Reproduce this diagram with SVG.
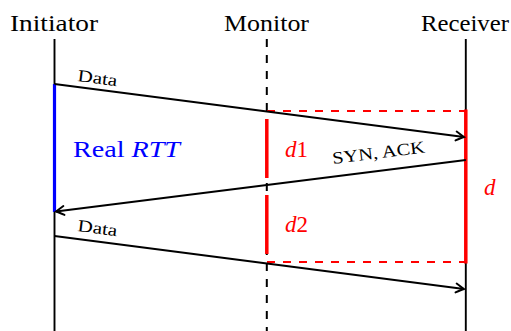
<svg xmlns="http://www.w3.org/2000/svg" width="511" height="331" viewBox="0 0 511 331">
  <style>
    text { font-family: 'Liberation Serif', 'Times New Roman', Times, 'DejaVu Serif', serif; }
    .hdr { font-size: 23px; fill: #000; }
    .lbl { font-size: 17px; fill: #000; }
    .big { font-size: 23px; }
    .life { stroke: #000; stroke-width: 1.9; fill: none; }
    .dash { stroke: #000; stroke-width: 2; stroke-dasharray: 8 8; fill: none; }
    .msg { stroke: #000; stroke-width: 1.9; fill: none; marker-end: url(#arr); }
    .rdash { stroke: #ff0000; stroke-width: 2.2; stroke-dasharray: 8 8; fill: none; }
    .rthick { stroke: #ff0000; stroke-width: 3.5; fill: none; }
    .red { fill: #ff0000; }
    .blue { fill: #0000ff; }
  </style>
  <defs>
    <marker id="arr" viewBox="-10 -6 12 12" refX="0" refY="0" markerWidth="12" markerHeight="12" markerUnits="userSpaceOnUse" orient="auto">
      <path d="M -8,-4.5 Q -2.5,-1.2 0,0 Q -2.5,1.2 -8,4.5" stroke="#000" stroke-width="1.9" fill="none" stroke-linecap="round"/>
    </marker>
  </defs>
  <rect width="511" height="331" fill="#fff"/>

  <g id="initiator">
    <text class="hdr" font-family="Liberation Serif, serif" x="10" y="31" textLength="88" lengthAdjust="spacingAndGlyphs">Initiator</text>
    <line class="life" x1="54.5" y1="39" x2="54.5" y2="331"/>
  </g>
  <g id="monitor">
    <text class="hdr" font-family="Liberation Serif, serif" x="224" y="31" textLength="85" lengthAdjust="spacingAndGlyphs">Monitor</text>
    <line class="dash" x1="266.8" y1="39" x2="266.8" y2="331"/>
  </g>
  <g id="receiver">
    <text class="hdr" font-family="Liberation Serif, serif" x="421" y="31" textLength="88" lengthAdjust="spacingAndGlyphs">Receiver</text>
    <line class="life" x1="465.8" y1="39" x2="465.8" y2="331"/>
  </g>

  <g id="rtt">
    <line x1="54.5" y1="84" x2="54.5" y2="212" stroke="#0000ff" stroke-width="3.2"/>
    <text class="big blue" font-family="Liberation Serif, serif" x="73" y="157" textLength="107" lengthAdjust="spacingAndGlyphs">Real <tspan font-style="italic">RTT</tspan></text>
  </g>

  <g id="delay-box">
    <line class="rdash" x1="267" y1="111" x2="465" y2="111"/>
    <line class="rdash" x1="267" y1="262" x2="465" y2="262"/>
    <line class="rthick" x1="465.8" y1="109.5" x2="465.8" y2="263.5"/>
    <line class="rthick" x1="266.8" y1="119" x2="266.8" y2="178"/>
    <line class="rthick" x1="266.8" y1="195" x2="266.8" y2="254"/>
    <text class="big red" font-family="Liberation Serif, serif" x="285" y="157"><tspan font-style="italic">d</tspan>1</text>
    <text class="big red" font-family="Liberation Serif, serif" x="285" y="232"><tspan font-style="italic">d</tspan>2</text>
    <text class="big red" font-family="Liberation Serif, serif" x="484" y="195" font-style="italic">d</text>
  </g>

  <g id="connectors">
    <line class="msg" x1="54.5" y1="84" x2="464" y2="137"/>
    <line class="msg" x1="465.8" y1="160" x2="56" y2="211.5"/>
    <line class="msg" x1="54.5" y1="236" x2="464" y2="289"/>
    <text class="lbl" font-family="Liberation Serif, serif" transform="translate(77,81) rotate(7.3)" textLength="40" lengthAdjust="spacingAndGlyphs">Data</text>
    <text class="lbl" font-family="Liberation Serif, serif" transform="translate(333,164) rotate(-7.2)" textLength="93" lengthAdjust="spacingAndGlyphs">SYN, ACK</text>
    <text class="lbl" font-family="Liberation Serif, serif" transform="translate(77,231) rotate(7.3)" textLength="40" lengthAdjust="spacingAndGlyphs">Data</text>
  </g>
</svg>
